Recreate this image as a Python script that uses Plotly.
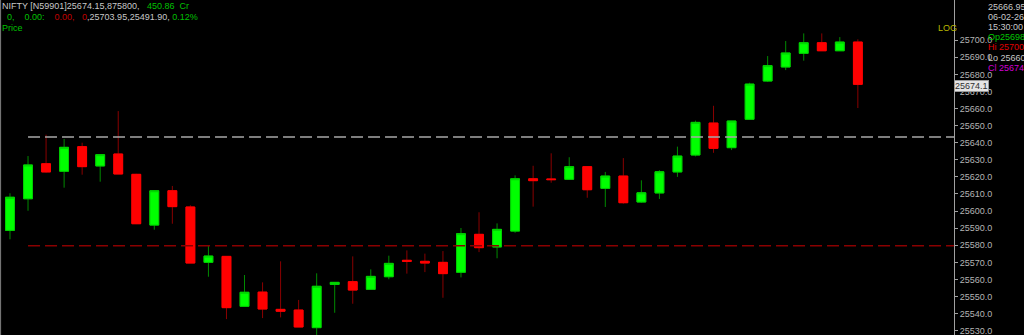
import plotly.graph_objects as go

# ---- data ----
idx = list(range(48))
opens = [25588.7, 25607.2, 25627.7, 25623.3, 25637.7, 25626.4, 25633.4, 25621.5, 25591.8, 25611.9,
         25602.4, 25570.0, 25573.5, 25544.3, 25552.6, 25542.5, 25542.1, 25531.8, 25557.1, 25558.7,
         25554.2, 25561.6, 25571.2, 25570.6, 25570.0, 25564.2, 25586.4, 25579.0, 25588.3, 25618.9,
         25618.8, 25618.6, 25626.0, 25613.3, 25620.5, 25605.3, 25610.6, 25622.9, 25632.8, 25651.5,
         25637.1, 25653.7, 25676.1, 25684.3, 25692.3, 25698.5, 25693.8, 25698.9]
highs = [25610.4, 25632.2, 25644.7, 25642.2, 25640.0, 25633.0, 25658.5, 25621.8, 25611.9, 25614.7,
         25603.4, 25579.6, 25573.5, 25562.6, 25558.3, 25570.6, 25548.0, 25563.6, 25558.3, 25573.5,
         25565.9, 25573.9, 25577.0, 25575.1, 25576.6, 25590.1, 25599.3, 25592.8, 25620.9, 25626.5,
         25633.8, 25631.5, 25626.0, 25622.9, 25631.0, 25618.0, 25623.9, 25637.7, 25652.9, 25661.6,
         25652.7, 25675.1, 25690.7, 25699.5, 25703.95, 25703.95, 25701.8, 25700.5]
lows = [25583.5, 25600.2, 25622.5, 25613.7, 25621.3, 25617.2, 25621.7, 25592.4, 25589.1, 25592.6,
        25569.6, 25561.6, 25536.8, 25544.3, 25537.4, 25537.8, 25532.2, 25525.0, 25540.5, 25545.8,
        25554.2, 25560.1, 25563.4, 25564.3, 25549.3, 25561.2, 25576.0, 25572.4, 25587.3, 25602.6,
        25616.6, 25618.6, 25607.8, 25602.4, 25604.3, 25604.9, 25607.1, 25620.0, 25632.0, 25634.1,
        25635.7, 25653.3, 25675.5, 25682.5, 25688.0, 25693.8, 25693.8, 25660.3]
closes = [25608.1, 25627.0, 25622.9, 25637.3, 25626.0, 25633.0, 25621.7, 25592.6, 25611.9, 25602.6,
          25569.6, 25573.7, 25543.5, 25552.5, 25542.7, 25541.4, 25532.2, 25556.0, 25558.3, 25553.8,
          25561.8, 25569.4, 25570.6, 25569.6, 25563.4, 25586.8, 25578.6, 25589.3, 25618.9, 25617.8,
          25618.4, 25626.0, 25612.5, 25620.5, 25604.9, 25610.7, 25623.0, 25632.2, 25651.9, 25636.7,
          25652.7, 25674.3, 25685.1, 25692.5, 25698.5, 25693.8, 25698.9, 25674.15]

resistance_level = 25643.3
support_level = 25579.7
last_price = 25674.1
y_ticks = [25530, 25540, 25550, 25560, 25570, 25580, 25590, 25600, 25610, 25620, 25630,
           25640, 25650, 25660, 25670, 25680, 25690, 25700]

header_line1 = "NIFTY [N59901]25674.15,875800,"
header_line1b = "450.86  Cr"
info_lines = [("25666.95", "#c8c8c8"), ("06-02-26", "#c8c8c8"), ("15:30:00", "#c8c8c8"),
              ("Op25698.", "#00c800"), ("Hi 25700.", "#e00000"), ("Lo 25660.", "#c8c8c8"),
              ("Cl 25674.", "#d000d0")]

W, H = 1024, 335
ML, MR = 0, 70
PW = W - ML - MR
FONT = "Liberation Sans"

body_hi = [max(o, c) for o, c in zip(opens, closes)]
body_lo = [min(o, c) for o, c in zip(opens, closes)]

fig = go.Figure()
# wicks (dark)
fig.add_trace(go.Candlestick(
    x=idx, open=opens, high=highs, low=lows, close=closes,
    increasing=dict(line=dict(color="#008a00", width=1), fillcolor="#00ff00"),
    decreasing=dict(line=dict(color="#8a0000", width=1), fillcolor="#ff0000"),
    whiskerwidth=0, showlegend=False, hoverinfo="skip"))
# bodies (bright)
fig.add_trace(go.Candlestick(
    x=idx, open=opens, high=body_hi, low=body_lo, close=closes,
    increasing=dict(line=dict(color="#00d000", width=1), fillcolor="#00ff00"),
    decreasing=dict(line=dict(color="#ff0000", width=1), fillcolor="#ff0000"),
    whiskerwidth=0, showlegend=False, hoverinfo="skip"))

x_end = 52.33
fig.add_shape(type="line", x0=1, x1=x_end, y0=resistance_level, y1=resistance_level,
              xref="x", yref="y", line=dict(color="#a8a8a8", width=1.5, dash="12px,5px"))
fig.add_shape(type="line", x0=1, x1=x_end, y0=support_level, y1=support_level,
              xref="x", yref="y", line=dict(color="#8a0000", width=1.5, dash="12px,5px"))
# left border
fig.add_shape(type="line", x0=0.6 / PW, x1=0.6 / PW, y0=0, y1=1, xref="paper", yref="paper",
              line=dict(color="#808080", width=1))

def px(xp):
    return (xp - ML) / PW

def py(yp):
    return 1 - yp / H

ann = []
ann.append(dict(x=px(0), y=py(6), xref="paper", yref="paper", xanchor="left", yanchor="middle",
                showarrow=False, font=dict(family=FONT, size=9, color="#c8c8c8"),
                text=header_line1 + "   <span style='color:#00c000'>" + header_line1b + "</span>"))
ann.append(dict(x=px(0), y=py(17), xref="paper", yref="paper", xanchor="left", yanchor="middle",
                showarrow=False, font=dict(family=FONT, size=9, color="#c8c8c8"),
                text="&nbsp;&nbsp;<span style='color:#00c000'>0,&nbsp;&nbsp;&nbsp;&nbsp;0.00:</span>"
                     "&nbsp;&nbsp;&nbsp;&nbsp;<span style='color:#c00000'>0.00,&nbsp;&nbsp;&nbsp;0</span>"
                     ",25703.95,25491.90, <span style='color:#00c000'>0.12%</span>"))
ann.append(dict(x=px(0), y=py(27.5), xref="paper", yref="paper", xanchor="left", yanchor="middle",
                showarrow=False, font=dict(family=FONT, size=9, color="#00c000"), text="Price"))
ann.append(dict(x=px(936), y=py(28), xref="paper", yref="paper", xanchor="left", yanchor="middle",
                showarrow=False, font=dict(family=FONT, size=9, color="#b8b800"), text="LOG"))
for i, (t, c) in enumerate(info_lines):
    ann.append(dict(x=px(986), y=py(6.7 + 10.2 * i), xref="paper", yref="paper", xanchor="left",
                    yanchor="middle", showarrow=False,
                    font=dict(family=FONT, size=9, color=c), text=t))
ann.append(dict(x=px(953.5), y=py(85.5), xref="paper", yref="paper", xanchor="left", yanchor="middle",
                showarrow=False, font=dict(family=FONT, size=9, color="#303030"),
                text=f"{last_price:.1f}", bgcolor="#e4e4e4", bordercolor="#9a9a9a", borderwidth=1,
                borderpad=0))

fig.update_layout(
    width=W, height=H,
    margin=dict(l=ML, r=MR, t=0, b=0, pad=0),
    paper_bgcolor="#000000", plot_bgcolor="#000000",
    boxgap=0.3,
    annotations=ann,
    xaxis=dict(range=[-0.554, x_end], visible=False, showgrid=False, zeroline=False,
               rangeslider=dict(visible=False)),
    yaxis=dict(side="right", range=[25527.5, 25723.5], tickmode="array", tickvals=y_ticks,
               tickformat=".1f", ticks="outside", ticklen=3, tickcolor="#a0a0a0",
               showline=True, linecolor="#a0a0a0", linewidth=1, showgrid=False, zeroline=False,
               ticklabeloverflow="allow",
               tickfont=dict(family=FONT, size=9, color="#b4b4b4")),
)

fig.write_html("out.html")
